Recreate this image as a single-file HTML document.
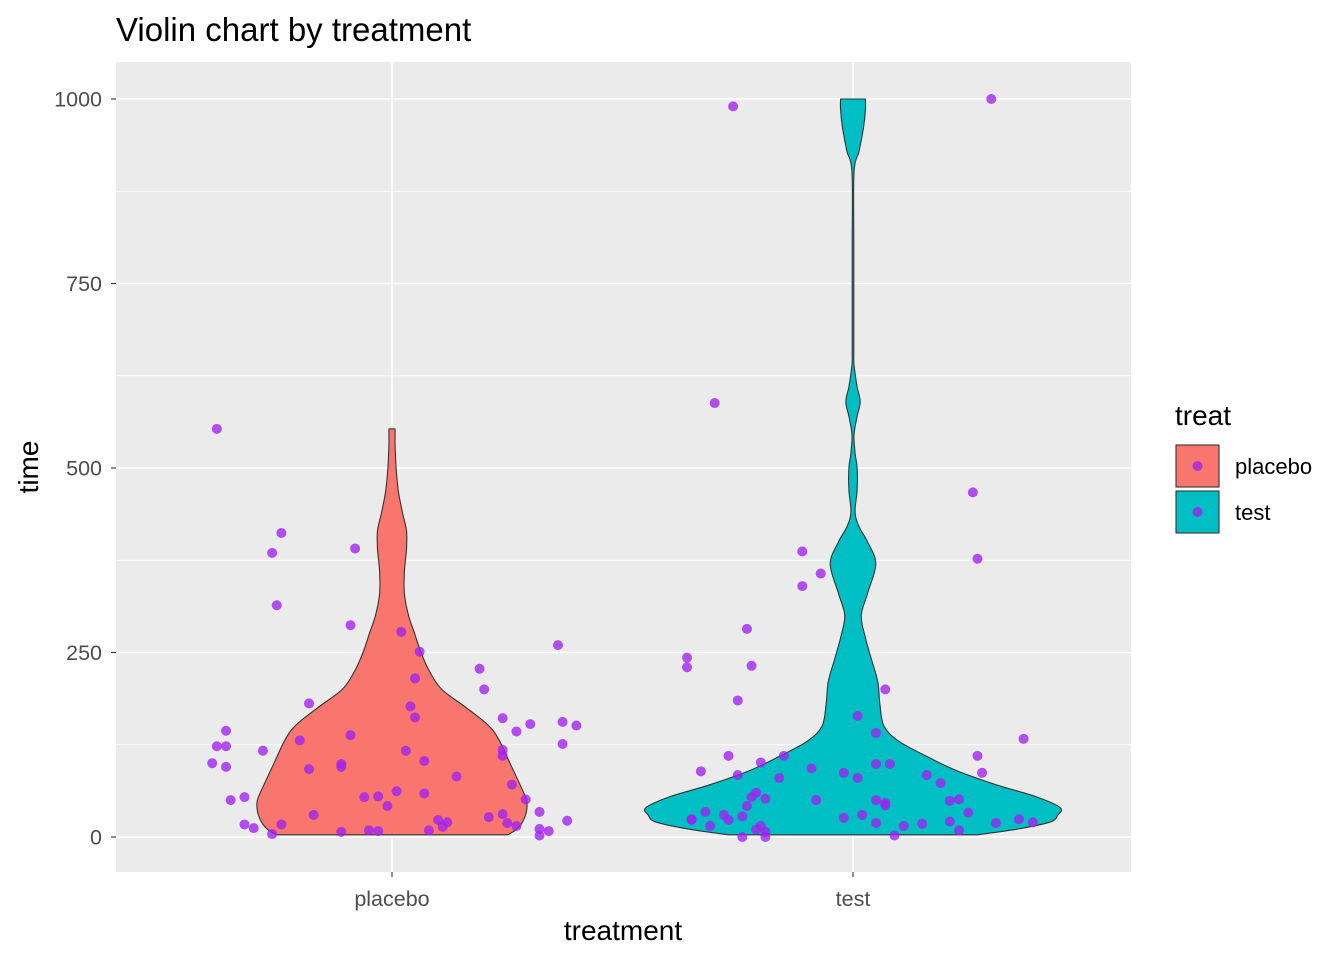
<!DOCTYPE html>
<html><head><meta charset="utf-8"><style>
body{margin:0;background:#fff;}
svg{display:block;font-family:"Liberation Sans",Arial,sans-serif;}
</style></head><body>
<svg id="chart" width="1344" height="960"></svg>
<script>
const categories=["placebo","test"];
const yTicks=[0,250,500,750,1000];
const yMinor=[125,375,625,875];
// violin outlines: time values and relative density widths (0..1)
const placeboT=[3,10,20,35,50,70,100,130,150,175,200,225,250,275,300,330,360,390,415,440,470,500,530,553];
const placeboW=[0.56,0.6,0.63,0.65,0.65,0.62,0.57,0.52,0.47,0.36,0.24,0.18,0.14,0.11,0.08,0.06,0.06,0.07,0.07,0.05,0.03,0.02,0.015,0.015];
const testT=[3,10,20,30,40,55,70,90,110,130,150,180,210,240,270,300,330,370,400,420,440,470,500,520,545,570,590,610,640,660,700,800,900,930,960,985,1000];
const testW=[0.6,0.78,0.95,0.99,1.0,0.88,0.7,0.5,0.35,0.22,0.15,0.13,0.12,0.09,0.06,0.04,0.07,0.11,0.07,0.03,0.01,0.02,0.02,0.01,0.005,0.02,0.035,0.02,0.005,0.004,0.004,0.004,0.005,0.03,0.05,0.06,0.06];
const placeboJit=[-0.38,-0.24,-0.26,-0.25,-0.08,-0.09,0.02,0.06,0.05,0.04,0.05,-0.18,-0.2,-0.09,-0.11,-0.11,-0.18,-0.28,-0.36,-0.36,-0.38,-0.39,-0.36,-0.35,-0.32,-0.32,-0.3,-0.26,-0.24,-0.17,-0.11,-0.06,-0.05,-0.03,-0.03,-0.01,0.01,0.03,0.07,0.07,0.08,0.1,0.11,0.12,0.14,0.19,0.2,0.24,0.27,0.3,0.36,0.37,0.37,0.4,0.24,0.24,0.26,0.29,0.21,0.24,0.25,0.27,0.32,0.32,0.32,0.34,0.38];
const placeboTime=[553,412,385,314,391,287,278,251,215,177,162,181,131,138,99,95,92,117,144,123,123,100,95,50,54,17,12,4,17,30,7,54,9,8,55,42,62,117,103,59,9,23,14,20,82,228,200,161,143,153,260,156,126,151,118,110,71,51,27,31,19,15,34,11,2,8,22];
const testJit=[-0.26,0.3,-0.3,0.26,0.27,-0.11,-0.07,-0.11,-0.23,-0.36,-0.36,-0.22,0.07,-0.25,0.01,0.05,-0.33,-0.27,-0.15,-0.09,-0.25,-0.2,-0.16,-0.08,-0.02,0.01,0.05,0.08,0.16,0.19,0.27,0.28,0.37,-0.22,-0.21,-0.19,-0.23,-0.28,-0.24,-0.32,-0.35,-0.35,-0.31,-0.27,-0.24,-0.21,-0.2,-0.19,-0.19,-0.02,0.02,0.05,0.05,0.07,0.07,0.09,0.11,0.15,0.21,0.23,0.21,0.23,0.25,0.31,0.36,0.39];
const testTime=[990,1000,588,467,377,387,357,340,282,243,230,232,200,185,164,141,89,110,110,93,84,101,80,50,87,80,99,99,84,73,110,87,133,54,60,52,42,30,28,34,24,23,15,23,0,10,15,7,0,26,30,19,50,46,43,2,15,18,49,51,21,9,33,19,24,20];

const svg=document.getElementById('chart');
const NS='http://www.w3.org/2000/svg';
const PL=116,PR=1131,PT=62,PB=872;
const xPos=i=>392+i*461;
const CAT=461;
const yS=v=>837-v*0.738;
const HALF=207;
function mk(tag,attrs,name,parent){const e=document.createElementNS(NS,tag);for(const k in attrs)e.setAttribute(k,attrs[k]);


(parent||svg).appendChild(e);return e;}
function smooth(p){let d='M'+p[0][0].toFixed(1)+','+p[0][1].toFixed(1);
 for(let i=0;i<p.length-1;i++){const p0=p[Math.max(i-1,0)],p1=p[i],p2=p[i+1],p3=p[Math.min(i+2,p.length-1)];
  const c1=[p1[0]+(p2[0]-p0[0])/6,p1[1]+(p2[1]-p0[1])/6],c2=[p2[0]-(p3[0]-p1[0])/6,p2[1]-(p3[1]-p1[1])/6];
  d+=' C'+c1.map(v=>v.toFixed(1)).join(',')+' '+c2.map(v=>v.toFixed(1)).join(',')+' '+p2.map(v=>v.toFixed(1)).join(',');}
 return d;}
mk('rect',{x:PL,y:PT,width:PR-PL,height:PB-PT,fill:'#EBEBEB'},'plot-panel');
yMinor.forEach(v=>mk('line',{x1:PL,x2:PR,y1:yS(v),y2:yS(v),stroke:'#fff','stroke-width':0.8},'minor-gridline'));
yTicks.forEach(v=>mk('line',{x1:PL,x2:PR,y1:yS(v),y2:yS(v),stroke:'#fff','stroke-width':1.6},'major-gridline'));
categories.forEach((c,i)=>mk('line',{x1:xPos(i),x2:xPos(i),y1:PT,y2:PB,stroke:'#fff','stroke-width':1.6},'x-gridline'));
function violin(ci,T,W,fill,name){
  const cx=xPos(ci);const r=[],l=[];
  for(let k=0;k<T.length;k++){r.push([cx+W[k]*HALF,yS(T[k])]);l.unshift([cx-W[k]*HALF,yS(T[k])]);}
  const d=smooth(r)+' L'+l[0][0].toFixed(1)+','+l[0][1].toFixed(1)+smooth(l).replace(/^M[^ ]+/,'')+'Z';
  mk('path',{d:d,fill:fill,stroke:'#333','stroke-width':1.1,'stroke-linejoin':'round'},name);
}
violin(0,placeboT,placeboW,'#F8766D','violin-placebo');
violin(1,testT,testW,'#00BFC4','violin-test');
function pts(ci,J,V,name){V.forEach((v,k)=>mk('circle',{cx:xPos(ci)+J[k]*CAT,cy:yS(v),r:5,fill:'#A020F0','fill-opacity':0.78},name));}
pts(0,placeboJit,placeboTime,'point-placebo');
pts(1,testJit,testTime,'point-test');
yTicks.forEach(v=>{mk('line',{x1:PL-5,x2:PL,y1:yS(v),y2:yS(v),stroke:'#333','stroke-width':1.1},'y-tick');
 const t=mk('text',{x:PL-14,y:yS(v)+7.5,'text-anchor':'end','font-size':21.5,fill:'#4D4D4D'},'y-tick-label');t.textContent=v;});
categories.forEach((c,i)=>{mk('line',{x1:xPos(i),x2:xPos(i),y1:PB,y2:PB+5,stroke:'#333','stroke-width':1.1},'x-tick');
 const t=mk('text',{x:xPos(i),y:PB+34,'text-anchor':'middle','font-size':21.5,fill:'#4D4D4D'},'x-tick-label');t.textContent=c;});
let t=mk('text',{x:116,y:41,'font-size':33,fill:'#000'},'chart-title');t.textContent='Violin chart by treatment';
t=mk('text',{x:623,y:940,'text-anchor':'middle','font-size':28,fill:'#000'},'x-axis-title');t.textContent='treatment';
t=mk('text',{x:38,y:467,'text-anchor':'middle','font-size':28,fill:'#000',transform:'rotate(-90 38 467)'},'y-axis-title');t.textContent='time';
t=mk('text',{x:1175,y:425,'font-size':28,fill:'#000'},'legend-title');t.textContent='treat';
[['placebo','#F8766D'],['test','#00BFC4']].forEach((d,i)=>{const y=445+i*46;
 mk('rect',{x:1176,y:y,width:43,height:42,fill:d[1],stroke:'#333','stroke-width':1.1},'legend-key');
 mk('circle',{cx:1197.5,cy:y+21,r:5,fill:'#A020F0','fill-opacity':0.78},'legend-point');
 const tt=mk('text',{x:1235,y:y+29,'font-size':22,fill:'#000'},'legend-label');tt.textContent=d[0];});
</script>
</body></html>
